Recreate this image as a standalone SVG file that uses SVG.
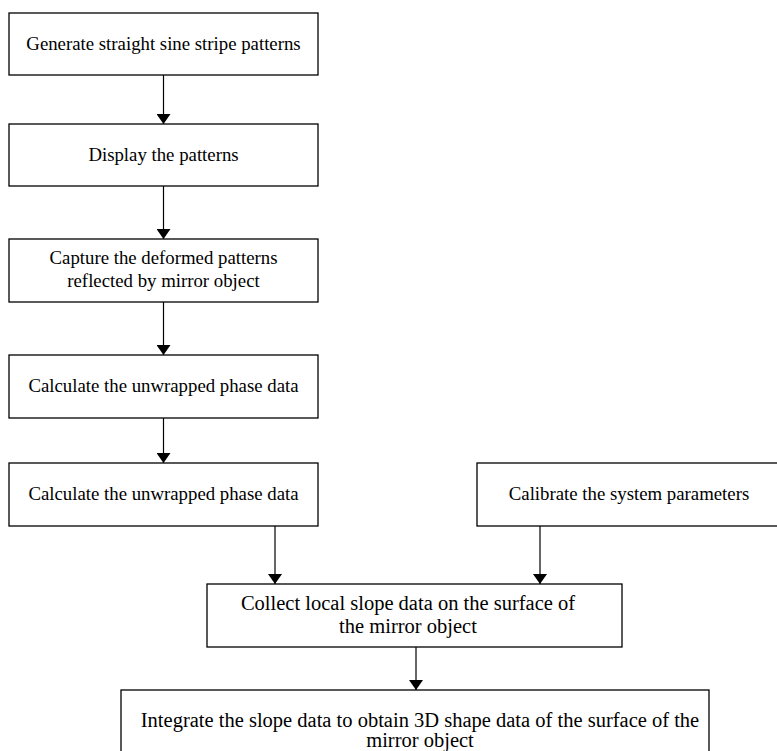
<svg xmlns="http://www.w3.org/2000/svg" width="777" height="751" viewBox="0 0 777 751">
<defs>
<style>
.box{fill:#fff;stroke:#000;stroke-width:1.3}
.t{font-family:"Liberation Serif","Times New Roman",serif;font-size:18.8px;fill:#000;text-anchor:middle}
.p{font-family:"Liberation Serif","Times New Roman",serif;font-size:20.5px;fill:#000;text-anchor:middle}
.c{stroke:#000;stroke-width:1.2;fill:none;marker-end:url(#ah)}
</style>
<marker id="ah" markerWidth="10" markerHeight="14" refX="10" refY="7" orient="auto" markerUnits="userSpaceOnUse" viewBox="0 0 10 14">
<path d="M0,0 L10,7 L0,14 Z" fill="#000"/>
</marker>
</defs>
<rect width="777" height="751" fill="#fff"/>
<g id="connectors">
<line class="c" x1="163.5" y1="75" x2="163.5" y2="124"/>
<line class="c" x1="163.5" y1="186" x2="163.5" y2="239"/>
<line class="c" x1="163.5" y1="302" x2="163.5" y2="355"/>
<line class="c" x1="163.5" y1="418" x2="163.5" y2="463"/>
<line class="c" x1="275" y1="526" x2="275" y2="584"/>
<line class="c" x1="540" y1="526" x2="540" y2="584"/>
<line class="c" x1="416" y1="647" x2="416" y2="690"/>
</g>
<g id="n1"><rect class="box" x="9" y="13" width="309" height="62"/><text class="t" x="163.5" y="50">Generate straight sine stripe patterns</text></g>
<g id="n2"><rect class="box" x="9" y="124" width="309" height="62"/><text class="t" x="163.5" y="161">Display the patterns</text></g>
<g id="n3"><rect class="box" x="9" y="239" width="309" height="63"/><text class="t" x="163.5" y="264">Capture the deformed patterns</text><text class="t" x="163.5" y="287">reflected by mirror object</text></g>
<g id="n4"><rect class="box" x="9" y="355" width="309" height="63"/><text class="t" x="163.5" y="392">Calculate the unwrapped phase data</text></g>
<g id="n5"><rect class="box" x="9" y="463" width="309" height="63"/><text class="t" x="163.5" y="500">Calculate the unwrapped phase data</text></g>
<g id="n6"><rect class="box" x="477" y="463" width="320" height="63"/><text class="t" x="629" y="500">Calibrate the system parameters</text></g>
<g id="n7"><rect class="box" x="207" y="584" width="415" height="63"/><text class="p" x="408" y="610">Collect local slope data on the surface of</text><text class="p" x="408" y="633">the mirror object</text></g>
<g id="n8"><rect class="box" x="121" y="690" width="588" height="80"/><text class="p" x="420" y="727">Integrate the slope data to obtain 3D shape data of the surface of the</text><text class="p" x="420" y="747">mirror object</text></g>
</svg>
